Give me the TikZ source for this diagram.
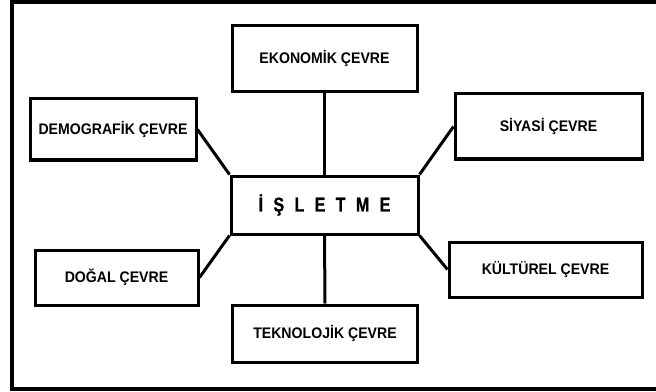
\documentclass[tikz,border=0pt]{standalone}
\usepackage{fontspec}
\setmainfont{Liberation Sans}
% slightly narrowed bold faces for the box labels
\newfontfamily\boxfont[FakeStretch=0.92]{Liberation Sans Bold}
\newfontfamily\centrefont[FakeStretch=0.8,FakeBold=1]{Liberation Sans Bold}

% gap between the spread-out letters of the centre box
\newcommand{\letgap}{\hspace{.52em}}

\tikzset{
  envbox/.style={draw, line width=2.25pt, inner sep=0pt,
                 font=\boxfont\fontsize{11.5}{13}\selectfont},
  link/.style={line width=2.25pt}
}

\begin{document}
\begin{tikzpicture}[x=0.75pt, y=-0.75pt]

% =====================================================================
% Page frame (open on the right-hand side)
% =====================================================================
\useasboundingbox (0,0) rectangle (656,392);
\draw[line width=3pt, line join=miter] (656,2) -- (12,2) -- (12,389) -- (656,389);

% =====================================================================
% Centre box
% =====================================================================
\node[envbox, minimum width=140.25pt, minimum height=43.5pt,
      font=\centrefont\fontsize{15}{17}\selectfont]
  (isl) at (324.5,205) {İ\letgap Ş\letgap L\letgap E\letgap T\letgap M\letgap E};

% =====================================================================
% Environment boxes round the centre
% =====================================================================

% top   x=232..417   y=26..92
\node[envbox, minimum width=138.75pt, minimum height=49.5pt]
  (eko) at (324.5,59) {EKONOMİK ÇEVRE};

% upper left   x=30..196   y=99..160
\node[envbox, minimum width=124.5pt, minimum height=45.75pt]
  (demo) at (113,129.5) {DEMOGRAFİK ÇEVRE};

% upper right   x=455..642   y=94..159
\node[envbox, minimum width=140.25pt, minimum height=48.75pt]
  (siy) at (548.5,126.5) {SİYASİ ÇEVRE};

% lower left   x=35..198   y=250..305
\node[envbox, minimum width=122.25pt, minimum height=41.25pt]
  (dog) at (116.5,277.5) {DOĞAL ÇEVRE};

% lower right   x=449..642   y=242..297
\node[envbox, minimum width=144.75pt, minimum height=41.25pt]
  (kul) at (545.5,269.5) {KÜLTÜREL ÇEVRE};

% bottom   x=233..418   y=305..362
\node[envbox, minimum width=138.75pt, minimum height=42.75pt]
  (tek) at (325,333.5) {TEKNOLOJİK ÇEVRE};

% =====================================================================
% Links to the centre box
% =====================================================================
\draw[link] (eko.south)  -- (isl.north);
\draw[link] (demo.east)  -- (isl.north west);
\draw[link] (siy.west)   -- (isl.north east);
\draw[link] (dog.east)   -- (isl.south west);
\draw[link] (kul.west)   -- (isl.south east);
\draw[link] (tek.north)  -- (isl.south);

\end{tikzpicture}
\end{document}
